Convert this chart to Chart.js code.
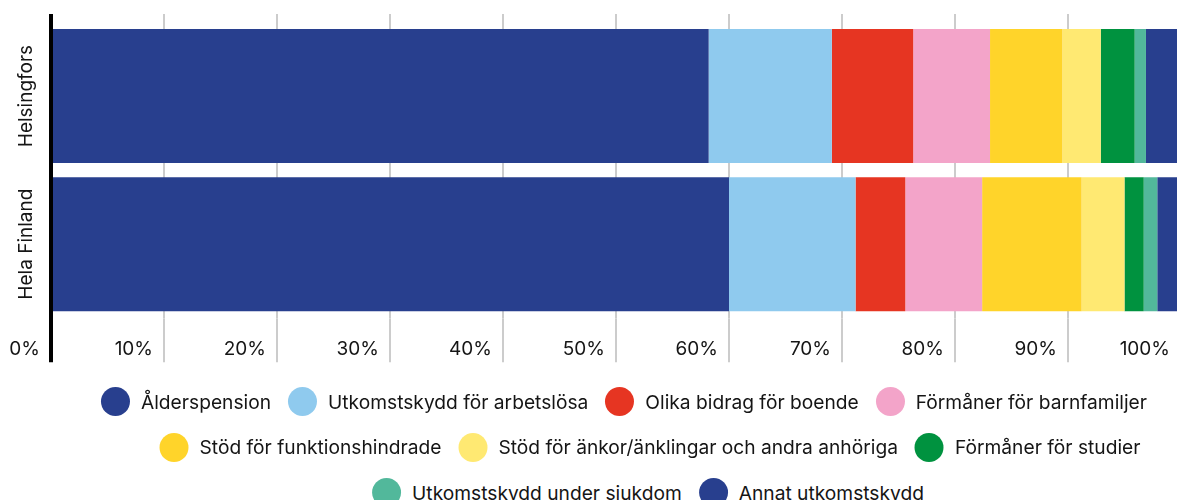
<!DOCTYPE html>
<html>
<head>
<meta charset="utf-8">
<script src="https://cdn.jsdelivr.net/npm/chart.js@4.4.0/dist/chart.umd.min.js"></script>
<style>
  html, body { margin: 0; padding: 0; background: #fff; overflow: hidden; }
  body { width: 1177px; height: 500px; position: relative; font-family: Inter, "Noto Sans", sans-serif; }
  #wrap { position: absolute; left: 0; top: 0; width: 1201px; height: 381px; }
  .row { position: absolute; display: flex; align-items: center; white-space: nowrap; transform: translateX(-50%); height: 45px; }
  .item { display: flex; align-items: center; margin-right: 17px; font-size: 19.2px; color: #151515; }
  .item:last-child { margin-right: 0; }
  .dot { width: 29px; height: 29px; border-radius: 50%; margin-right: 11px; flex: none; }
</style>
</head>
<body>
<div id="wrap"><canvas id="chart"></canvas></div>
<div id="legend"></div>
<script>
const categories = ["Helsingfors", "Hela Finland"];
const seriesNames = [
  "Ålderspension",
  "Utkomstskydd för arbetslösa",
  "Olika bidrag för boende",
  "Förmåner för barnfamiljer",
  "Stöd för funktionshindrade",
  "Stöd för änkor/änklingar och andra anhöriga",
  "Förmåner för studier",
  "Utkomstskydd under sjukdom",
  "Annat utkomstskydd"
];
const seriesColors = ["#283f8e", "#8fcaee", "#e63522", "#f3a4c9", "#ffd42a", "#ffe972", "#00923f", "#52b89b", "#283f8e"];
const helsingfors = [58.2, 10.9, 7.2, 6.8, 6.4, 3.4, 3.0, 1.0, 3.1];
const helaFinland = [60.0, 11.2, 4.4, 6.8, 8.8, 3.8, 1.7, 1.2, 2.1];
const xTickValues = [0, 10, 20, 30, 40, 50, 60, 70, 80, 90, 100];

Chart.defaults.font.family = "Inter, 'Noto Sans', sans-serif";
Chart.defaults.color = "#151515";

const datasets = seriesNames.map((name, i) => ({
  label: name,
  data: [helsingfors[i], helaFinland[i]],
  backgroundColor: seriesColors[i],
  borderWidth: 0,
  categoryPercentage: 1,
  barPercentage: 0.905
}));

const lineColor = (v) => v === 0 ? "#000" : "#cccccc";
const lineWidth = (v) => v === 0 ? 4 : 2;

// grid lines run a bit past the plot area, above and down through the tick labels
const gridExtend = {
  id: "gridExtend",
  afterDraw(chart) {
    const ctx = chart.ctx;
    const x = chart.scales.x;
    const area = chart.chartArea;
    ctx.save();
    x.ticks.forEach(t => {
      const px = Math.round(x.getPixelForValue(t.value));
      ctx.strokeStyle = lineColor(t.value);
      ctx.lineWidth = lineWidth(t.value);
      ctx.beginPath();
      ctx.moveTo(px, area.top - 8);
      ctx.lineTo(px, area.top);
      ctx.moveTo(px, area.bottom);
      ctx.lineTo(px, area.bottom + 44);
      ctx.stroke();
    });
    ctx.restore();
  }
};

// rotated category names on the left
const yLabels = {
  id: "yLabels",
  afterDraw(chart) {
    const ctx = chart.ctx;
    const y = chart.scales.y;
    ctx.save();
    ctx.font = "19px Inter, 'Noto Sans', sans-serif";
    ctx.fillStyle = "#151515";
    ctx.textAlign = "center";
    ctx.textBaseline = "middle";
    categories.forEach((c, i) => {
      ctx.save();
      ctx.translate(26, y.getPixelForValue(i));
      ctx.rotate(-Math.PI / 2);
      ctx.fillText(c, 0, 0);
      ctx.restore();
    });
    ctx.restore();
  }
};

const chart = new Chart(document.getElementById("chart"), {
  type: "bar",
  data: { labels: categories, datasets: datasets },
  options: {
    indexAxis: "y",
    responsive: true,
    maintainAspectRatio: false,
    animation: false,
    layout: { padding: { left: 51, top: 22, right: 0, bottom: 0 } },
    plugins: {
      legend: { display: false },
      tooltip: { enabled: false }
    },
    scales: {
      x: {
        stacked: true,
        min: 0,
        max: 100,
        afterBuildTicks: (scale) => { scale.ticks = xTickValues.map(v => ({ value: v })); },
        grid: {
          color: (ctx) => lineColor(ctx.tick && ctx.tick.value),
          lineWidth: (ctx) => lineWidth(ctx.tick && ctx.tick.value),
          drawTicks: false
        },
        border: { display: false },
        ticks: {
          align: "end",
          labelOffset: -11,
          padding: 20,
          font: { size: 19 },
          callback: (v) => v + "%"
        }
      },
      y: {
        stacked: true,
        grid: { display: false, drawTicks: false },
        border: { display: true, color: "#000", width: 4, z: 1 },
        ticks: { display: false }
      }
    }
  },
  plugins: [gridExtend, yLabels]
});

// legend rows as in the original
const legendRows = [[0, 1, 2, 3], [4, 5, 6], [7, 8]];
const rowCenters = [624, 650, 648];
const legend = document.getElementById("legend");
legendRows.forEach((row, r) => {
  const div = document.createElement("div");
  div.className = "row";
  div.style.left = rowCenters[r] + "px";
  div.style.top = (379 + r * 45.5) + "px";
  row.forEach(i => {
    const item = document.createElement("div");
    item.className = "item";
    const dot = document.createElement("span");
    dot.className = "dot";
    dot.style.background = chart.data.datasets[i].backgroundColor;
    const txt = document.createElement("span");
    txt.textContent = chart.data.datasets[i].label;
    item.appendChild(dot);
    item.appendChild(txt);
    div.appendChild(item);
  });
  legend.appendChild(div);
});
</script>
</body>
</html>
